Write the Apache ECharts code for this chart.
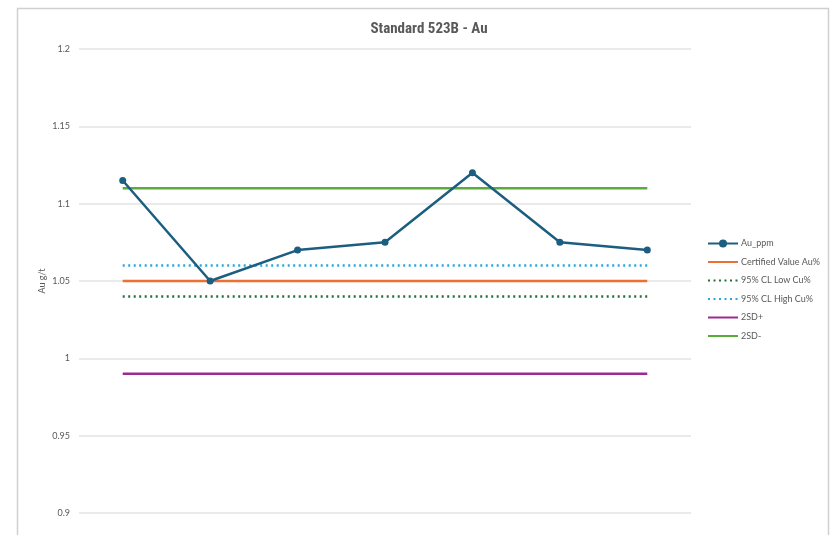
<!DOCTYPE html>
<html>
<head>
<meta charset="utf-8">
<script src="https://cdn.jsdelivr.net/npm/echarts@6/dist/echarts.min.js"></script>
<style>
html,body{margin:0;padding:0;background:#fff;}
#c{width:831px;height:535px;}
</style>
</head>
<body>
<div id="c"></div>
<script>
var categories = ['1', '2', '3', '4', '5', '6', '7'];
var auPpm = [1.115, 1.05, 1.07, 1.075, 1.12, 1.075, 1.07];
var certifiedValue = [1.05, 1.05, 1.05, 1.05, 1.05, 1.05, 1.05];
var clLow = [1.04, 1.04, 1.04, 1.04, 1.04, 1.04, 1.04];
var clHigh = [1.06, 1.06, 1.06, 1.06, 1.06, 1.06, 1.06];
var sdPlus = [0.99, 0.99, 0.99, 0.99, 0.99, 0.99, 0.99];
var sdMinus = [1.11, 1.11, 1.11, 1.11, 1.11, 1.11, 1.11];
var seriesNames = ['Au_ppm', 'Certified Value Au%', '95% CL Low Cu%', '95% CL High Cu%', '2SD+', '2SD-'];
var yTicks = {min: 0.9, max: 1.2, interval: 0.05};

var chart = echarts.init(document.getElementById('c'));
var txt = '#595959';
function flat(name, data, color, type) {
  return {
    name: name, type: 'line', data: data, symbol: 'none',
    lineStyle: {color: color, width: 2.5, type: type === 'dotted' ? [2, 3.5] : 'solid'},
    itemStyle: {color: color}, z: 2
  };
}
var legendData = seriesNames.map(function (n, i) {
  return i === 0 ? {name: n} : {name: n, itemStyle: {opacity: 0}};
});
chart.setOption({
  animation: false,
  textStyle: {fontFamily: 'Lato, "Liberation Sans", sans-serif'},
  graphic: [{
    type: 'rect', shape: {x: 17.5, y: 8.5, width: 811, height: 600},
    style: {fill: 'none', stroke: '#d0d0d0', lineWidth: 1.5}, silent: true, z: -10
  }],
  title: {
    text: 'Standard 523B - Au', left: 424, top: 17, textAlign: 'center',
    textStyle: {fontFamily: '"Liberation Sans Narrow", "Roboto Condensed", sans-serif', fontWeight: 'bold', fontSize: 15, color: txt}
  },
  legend: {
    orient: 'vertical', left: 702, top: 234, itemGap: 9.5, itemWidth: 30, itemHeight: 10,
    data: legendData,
    textStyle: {color: txt, fontSize: 9, fontFamily: 'Lato, sans-serif', padding: [0, 0, 0, -2]}
  },
  grid: {left: 79, right: 140, top: 49, bottom: 22},
  xAxis: {
    type: 'category', data: categories, boundaryGap: true,
    axisLine: {show: false}, axisTick: {show: false}, axisLabel: {show: false}
  },
  yAxis: {
    type: 'value', min: yTicks.min, max: yTicks.max, interval: yTicks.interval,
    name: 'Au g/t', nameLocation: 'middle', nameGap: 32, nameRotate: 90, nameMoveOverlap: false,
    nameTextStyle: {color: txt, fontSize: 9},
    axisLine: {show: false}, axisTick: {show: false},
    axisLabel: {color: txt, fontSize: 9, margin: 9, formatter: function (v) { return String(+v.toFixed(2)); }},
    splitLine: {lineStyle: {color: '#e3e3e3', width: 1.5}}
  },
  series: [
    {
      name: seriesNames[0], type: 'line', data: auPpm, symbol: 'circle', symbolSize: 7,
      lineStyle: {color: '#1b5e80', width: 2.5}, itemStyle: {color: '#1b5e80'}, z: 5
    },
    flat(seriesNames[1], certifiedValue, '#ea7133', 'solid'),
    flat(seriesNames[2], clLow, '#23713a', 'dotted'),
    flat(seriesNames[3], clHigh, '#2aa6dc', 'dotted'),
    flat(seriesNames[4], sdPlus, '#9b2a92', 'solid'),
    flat(seriesNames[5], sdMinus, '#5aac38', 'solid')
  ]
});
</script>
</body>
</html>
